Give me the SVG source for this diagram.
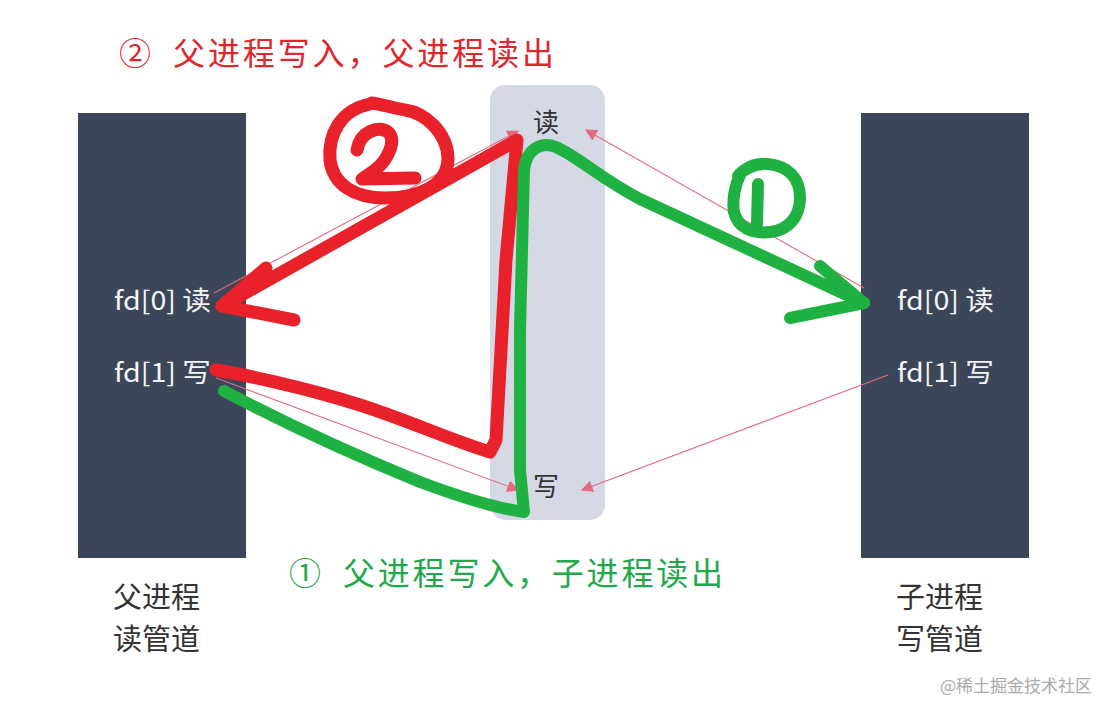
<svg xmlns="http://www.w3.org/2000/svg" width="1106" height="702" viewBox="0 0 1106 702">
<style>
.bar{fill:#3c4659}
.pipe{fill:#d5d9e6}
.fdl{font-family:"Noto Sans CJK SC","Liberation Sans",sans-serif;font-size:26px;fill:#f4f5f8}
.lbl{font-family:"Noto Sans CJK SC",sans-serif;font-size:29px;fill:#333}
.pl{font-family:"Noto Sans CJK SC",sans-serif;font-size:26px;fill:#333}
.thin{stroke:#e46a80;stroke-width:1.1;fill:none;marker-end:url(#ah)}
.red{stroke:#e8212b;stroke-width:13;fill:none;stroke-linecap:round;stroke-linejoin:round}
.grn{stroke:#1fb141;stroke-width:12;fill:none;stroke-linecap:round;stroke-linejoin:round}
.title{font-family:"Noto Sans CJK SC",sans-serif;font-size:32px}
</style>
<defs>
<marker id="ah" viewBox="0 0 10 10" refX="9" refY="5" markerWidth="12" markerHeight="12" markerUnits="userSpaceOnUse" orient="auto">
<path d="M0,0 L10,5 L0,10 z" fill="#e46a80"/>
</marker>
</defs>
<rect width="1106" height="702" fill="#fff"/>
<g id="parent">
<rect class="bar" x="78" y="113" width="168" height="445"/>
<text class="fdl" x="114" y="310" textLength="97" lengthAdjust="spacingAndGlyphs">fd[0] 读</text>
<text class="fdl" x="114" y="382" textLength="97" lengthAdjust="spacingAndGlyphs">fd[1] 写</text>
<text class="lbl" x="113" y="608">父进程</text>
<text class="lbl" x="113" y="650">读管道</text>
</g>
<g id="child">
<rect class="bar" x="861" y="113" width="168" height="445"/>
<text class="fdl" x="897" y="310" textLength="97" lengthAdjust="spacingAndGlyphs">fd[0] 读</text>
<text class="fdl" x="897" y="382" textLength="97" lengthAdjust="spacingAndGlyphs">fd[1] 写</text>
<text class="lbl" x="896" y="608">子进程</text>
<text class="lbl" x="896" y="650">写管道</text>
</g>
<g id="pipe">
<rect class="pipe" x="490" y="85" width="115" height="435" rx="15"/>
<text class="pl" x="546" y="132" text-anchor="middle">读</text>
<text class="pl" x="546" y="496" text-anchor="middle">写</text>
</g>
<g id="connectors">
<line class="thin" x1="214" y1="293" x2="518" y2="131"/>
<line class="thin" x1="864" y1="288" x2="586" y2="130"/>
<line class="thin" x1="216" y1="378" x2="518" y2="490"/>
<line class="thin" x1="888" y1="375" x2="582" y2="490"/>
</g>
<g id="red-strokes">
<path class="red" d="M370,104 C340,110 328,135 330,160 C333,185 355,198 385,198 C420,198 448,185 448,158 C447,132 425,113 405,110 C390,107 380,104 372,103"/>
<path class="red" d="M357,150 C360,132 378,125 388,132 C397,140 388,160 375,170 L362,179 L415,178"/>
<path class="red" d="M216,370 C240,374 300,386 360,405 C410,421 450,440 490,452 L496,440 L506,260 L517,140 L222,306"/>
<path class="red" d="M266,268 L222,306 L294,320"/>
</g>
<g id="green-strokes">
<path class="grn" d="M224,391 C260,410 330,445 420,482 C460,497 495,508 524,512 L520,470 L520,330 L524,170 C526,150 540,141 556,147 C580,158 600,178 640,199 L864,303"/>
<path class="grn" d="M820,266 L864,303 L790,318"/>
<path class="grn" d="M740,175 C735,185 732,200 734,212 C738,228 752,234 770,232 C790,230 800,215 800,198 C800,178 788,166 768,164 C755,163 745,168 738,176"/>
<path class="grn" d="M758,184 L757,224"/>
</g>
<g id="titles">
<text class="title" x="119" y="65" fill="#e0262b">②</text>
<text class="title" x="173" y="65" fill="#e0262b" textLength="381" lengthAdjust="spacing">父进程写入，父进程读出</text>
<text class="title" x="289" y="585" fill="#22a84a">①</text>
<text class="title" x="343" y="585" fill="#22a84a" textLength="380" lengthAdjust="spacing">父进程写入，子进程读出</text>
<text x="940" y="692" font-family="Noto Sans CJK SC, sans-serif" font-size="17" fill="#aaaaaa">@稀土掘金技术社区</text>
</g>
</svg>
